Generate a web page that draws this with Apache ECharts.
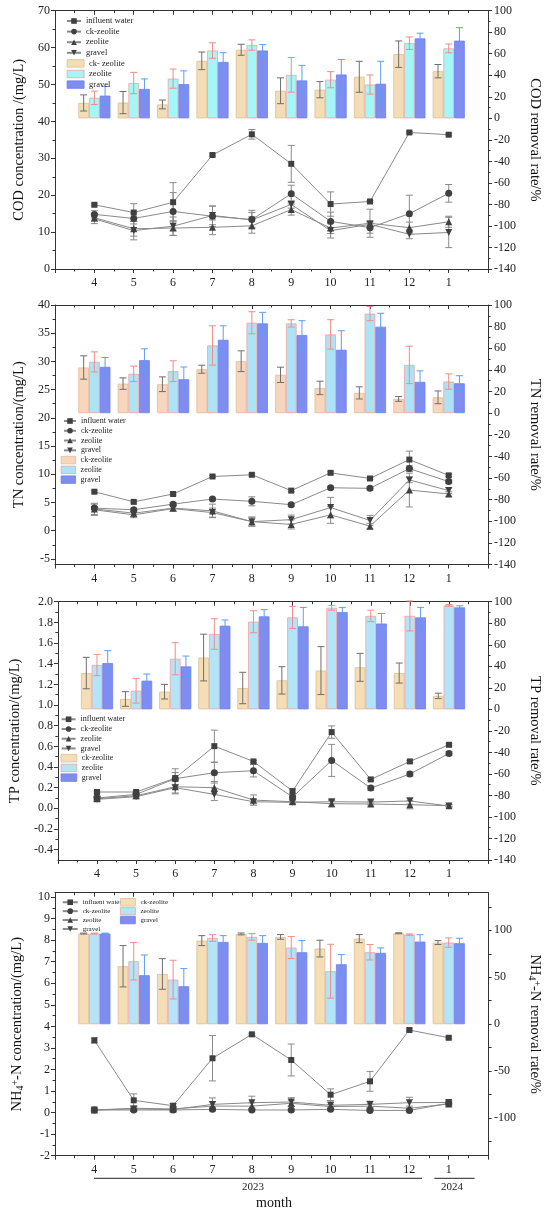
<!DOCTYPE html>
<html>
<head>
<meta charset="utf-8">
<script src="https://cdn.jsdelivr.net/npm/echarts@6/dist/echarts.min.js"></script>
<style>
html, body { margin: 0; padding: 0; background: #fff; }
#demo { width: 550px; height: 1216px; }
</style>
</head>
<body>
<div id="demo"></div>
<script>
// x axis: months Apr 2023 .. Jan 2024
var months = ['4', '5', '6', '7', '8', '9', '10', '11', '12', '1'];

// every point is [mean, error]
// COD concentration (mg/L)
var codInfluent = [[17.4,0.3],[15.3,2.4],[18.1,5.3],[30.9,0.3],[36.5,1.3],[28.5,5.0],[17.6,3.3],[18.3,0.3],[37.0,0.3],[36.4,0.3]];
var codCk       = [[14.8,1.0],[13.7,1.5],[15.6,5.1],[14.3,2.8],[13.4,2.5],[20.4,2.3],[12.9,2.5],[11.2,1.5],[15.0,5.0],[20.5,2.4]];
var codZeolite  = [[13.9,1.0],[10.9,2.0],[11.1,2.0],[11.3,2.0],[11.7,2.0],[16.1,1.5],[11.1,1.5],[12.4,3.8],[11.2,1.5],[12.8,1.5]];
var codGravel   = [[13.6,1.3],[10.4,2.5],[11.6,2.5],[14.5,2.5],[13.3,2.0],[17.5,1.0],[10.4,2.0],[12.1,1.0],[9.4,1.2],[9.9,4.1]];
// COD removal rate (%)
var codRateCk      = [[14.3,7.5],[14.6,10.3],[12.9,4.1],[53.4,8.2],[63.7,5.1],[25.6,12.0],[26.6,7.5],[38.6,14.4],[59.6,12.3],[43.8,6.2]];
var codRateZeolite = [[19.1,6.2],[32.8,9.9],[36.9,8.9],[63.0,7.2],[68.1,4.8],[40.4,16.1],[35.9,7.5],[31.4,8.9],[69.8,5.8],[65.0,4.1]];
var codRateGravel  = [[21.1,8.5],[27.3,9.3],[31.8,12.3],[52.4,8.6],[63.0,5.5],[35.2,14.0],[40.7,14.0],[32.1,20.9],[74.3,4.8],[72.2,12.0]];

// TN concentration (mg/L)
var tnInfluent = [[6.9,0.2],[5.1,0.2],[6.5,0.2],[9.6,0.2],[9.9,0.2],[7.1,0.2],[10.25,0.2],[9.25,0.2],[12.6,1.5],[9.8,0.2]];
var tnCk       = [[4.0,0.3],[3.7,0.3],[4.7,0.3],[5.6,0.3],[5.2,0.8],[4.6,0.3],[7.6,0.3],[7.5,0.3],[11.0,0.5],[8.7,0.3]];
var tnZeolite  = [[3.85,1.0],[3.1,0.6],[4.0,0.5],[3.5,1.2],[1.6,0.8],[1.1,0.8],[2.8,1.5],[0.8,0.5],[7.2,3.0],[6.5,0.4]];
var tnGravel   = [[3.7,1.0],[2.8,0.5],[3.9,0.5],[3.2,0.8],[1.6,0.8],[1.95,0.8],[4.1,1.8],[1.8,0.9],[9.0,0.5],[7.1,0.5]];
// TN removal rate (%)
var tnRateCk      = [[42.2,10.8],[27.3,5.3],[26.7,6.8],[40.6,3.7],[48.0,9.6],[35.4,7.1],[23.3,6.2],[18.7,5.6],[13.1,2.2],[14.6,5.9]];
var tnRateZeolite = [[47.4,9.3],[36.3,7.1],[38.8,9.6],[62.6,18.2],[83.6,10.2],[83.0,3.4],[72.8,13.6],[92.0,6.5],[44.6,17.3],[29.2,7.1]];
var tnRateGravel  = [[42.8,8.7],[49.0,10.5],[31.3,11.4],[67.8,13.0],[83.0,10.2],[72.2,13.3],[58.6,17.6],[79.9,12.4],[28.9,10.2],[27.6,7.0]];

// TP concentration (mg/L)
var tpInfluent = [[0.158,0.01],[0.158,0.01],[0.293,0.09],[0.602,0.155],[0.454,0.01],[0.167,0.02],[0.738,0.06],[0.28,0.01],[0.454,0.01],[0.615,0.01]];
var tpCk       = [[0.10,0.02],[0.135,0.02],[0.287,0.06],[0.345,0.1],[0.364,0.06],[0.11,0.02],[0.464,0.155],[0.196,0.02],[0.332,0.02],[0.531,0.02]];
var tpZeolite  = [[0.093,0.02],[0.122,0.02],[0.209,0.06],[0.2,0.06],[0.08,0.05],[0.064,0.02],[0.045,0.03],[0.042,0.02],[0.035,0.04],[0.026,0.01]];
var tpGravel   = [[0.087,0.02],[0.113,0.02],[0.2,0.06],[0.135,0.06],[0.064,0.02],[0.058,0.02],[0.064,0.02],[0.061,0.02],[0.071,0.03],[0.023,0.01]];
// TP removal rate (%)
var tpRateCk      = [[33.7,14.6],[9.6,6.8],[16.4,6.8],[48.1,21.7],[19.8,14.6],[26.9,12.7],[36.0,22.3],[39.0,13.0],[33.7,9.3],[12.5,2.5]];
var tpRateZeolite = [[41.2,9.9],[17.3,11.5],[47.0,14.9],[70.0,14.2],[81.4,10.2],[85.4,10.2],[94.4,2.2],[86.8,5.3],[86.8,13.9],[96.6,0.8]];
var tpRateGravel  = [[43.0,11.5],[26.6,6.2],[39.9,9.6],[77.7,5.3],[86.4,6.2],[77.1,17.6],[90.4,4.3],[79.7,9.3],[85.4,9.3],[94.7,1.5]];

// NH4+-N concentration (mg/L)
var nhInfluent = [[3.35,0.12],[0.57,0.3],[0.32,0.1],[2.52,1.05],[3.63,0.05],[2.44,0.74],[0.83,0.27],[1.45,0.46],[3.83,0.05],[3.47,0.05]];
var nhCk       = [[0.12,0.1],[0.12,0.05],[0.12,0.05],[0.15,0.05],[0.12,0.05],[0.12,0.05],[0.15,0.05],[0.1,0.05],[0.1,0.05],[0.43,0.1]];
var nhZeolite  = [[0.12,0.05],[0.2,0.1],[0.17,0.1],[0.3,0.2],[0.3,0.15],[0.43,0.15],[0.28,0.1],[0.3,0.1],[0.2,0.1],[0.4,0.1]];
var nhGravel   = [[0.12,0.05],[0.17,0.1],[0.14,0.1],[0.38,0.3],[0.46,0.3],[0.49,0.2],[0.34,0.2],[0.38,0.15],[0.46,0.25],[0.47,0.1]];
// NH4+-N removal rate (%)
var nhRateCk      = [[96.5,0.5],[61.7,22.0],[53.5,16.3],[89.0,5.3],[96.1,1.0],[92.9,2.5],[80.5,8.9],[91.1,4.3],[96.8,0.5],[86.9,2.1]];
var nhRateZeolite = [[96.5,0.5],[67.0,19.9],[47.5,20.6],[91.8,3.5],[92.9,3.5],[81.6,11.7],[56.4,28.7],[76.6,8.2],[95.4,0.7],[86.9,5.0]];
var nhRateGravel  = [[96.5,0.5],[52.1,21.6],[40.4,18.8],[87.6,6.7],[86.5,7.8],[76.6,12.4],[63.8,10.3],[75.9,5.3],[87.9,7.4],[86.2,5.3]];

var lineNames = ['influent water', 'ck-zeolite', 'zeolite', 'gravel'];

window.onload = function () {
    var serif = '"Times New Roman", "Liberation Serif", serif';
    var ink = '#333';
    var barW = 10.7;

    function range(a, b, step) {
        var r = [];
        for (var k = 0; a + k * step <= b + 1e-9; k++) r.push(+(a + k * step).toFixed(4));
        return r;
    }

    function pts(arr) {
        return arr.map(function (d, i) { return [i + 4, d[0], d[1]]; });
    }

    // vertical error bar with caps, dx shifts it onto its bar
    function errSeries(arr, xi, yi, dx, color, z) {
        return {
            type: 'custom', name: 'err', xAxisIndex: xi, yAxisIndex: yi, z: z, silent: true,
            encode: { x: 0, y: 1 }, data: pts(arr),
            renderItem: function (params, api) {
                var x = api.value(0), v = api.value(1), e = api.value(2);
                var p1 = api.coord([x, v + e]), p2 = api.coord([x, v - e]);
                var cx = p1[0] + dx, w = 3.5;
                var st = { stroke: color, lineWidth: 1 };
                return { type: 'group', children: [
                    { type: 'line', shape: { x1: cx, y1: p1[1], x2: cx, y2: p2[1] }, style: st },
                    { type: 'line', shape: { x1: cx - w, y1: p1[1], x2: cx + w, y2: p1[1] }, style: st },
                    { type: 'line', shape: { x1: cx - w, y1: p2[1], x2: cx + w, y2: p2[1] }, style: st }
                ] };
            }
        };
    }

    var nhRich = {
        sub: { fontSize: 10, fontFamily: serif, verticalAlign: 'bottom', lineHeight: 10, color: '#111' },
        sup: { fontSize: 10, fontFamily: serif, verticalAlign: 'top', lineHeight: 10, color: '#111' }
    };

    var panels = [
        { top: 10.7, bottom: 269, lines: [codInfluent, codCk, codZeolite, codGravel],
          bars: [codRateCk, codRateZeolite, codRateGravel],
          barNames: ['b1:ck- zeolite', 'b1:zeolite', 'b1:gravel'],
          barColors: ['#F3DDB6', '#A4F6F7', '#7F8DF1'],
          left: { min: 0, max: 70, interval: 10, name: 'COD concentration /(mg/L)', gap: 28 },
          right: { min: -140, max: 100, interval: 20, name: 'COD removal rate/%' },
          lg: { x: 66, y: 15.7, row: 10.6, font: 8.5, lw: 14, bx: 66.7, bw: 17, by: 58.1 } },
        { top: 305, bottom: 564.5, lines: [tnInfluent, tnCk, tnZeolite, tnGravel],
          bars: [tnRateCk, tnRateZeolite, tnRateGravel],
          barNames: ['b2:ck-zeolite', 'b2:zeolite', 'b2:gravel'],
          barColors: ['#F8D6BD', '#AEE3F5', '#7F8DF1'],
          left: { min: -6, max: 40, labels: range(-5, 40, 5), minors: range(-2.5, 37.5, 5), name: 'TN concentration/(mg/L)', gap: 28 },
          right: { min: -140, max: 100, interval: 20, name: 'TN removal rate/%' },
          lg: { x: 63, y: 416.1, row: 9.78, font: 8, lw: 12, bx: 60.7, bw: 14.5, by: 455.2 } },
        { top: 601.7, bottom: 860, lines: [tpInfluent, tpCk, tpZeolite, tpGravel],
          bars: [tpRateCk, tpRateZeolite, tpRateGravel],
          barNames: ['b3:ck-zeolite', 'b3:zeolite', 'b3:gravel'],
          barColors: ['#F5DEB5', '#B3E4F7', '#7F8DF1'],
          left: { min: -0.5, max: 2.0, labels: range(-0.4, 2.0, 0.2), minors: range(-0.3, 1.9, 0.2), fmt: 1, name: 'TP concentration/(mg/L)', gap: 33 },
          right: { min: -140, max: 100, interval: 20, name: 'TP removal rate/%' },
          lg: { x: 60.6, y: 714.4, row: 9.73, font: 8, lw: 14, bx: 60.6, bw: 15.8, by: 753.3 } },
        { top: 892.7, bottom: 1155.7, lines: [nhInfluent, nhCk, nhZeolite, nhGravel],
          bars: [nhRateCk, nhRateZeolite, nhRateGravel],
          barNames: ['b4:ck-zeolite', 'b4:zeolite', 'b4:gravel'],
          barColors: ['#F5DEB5', '#B3E4F7', '#7F8DF1'],
          left: { min: -2, max: 10.2, labels: range(-2, 10, 1), minors: range(-1.5, 9.5, 1), name: 'NH{sub|4}{sup|+}-N concentration/(mg/L)', gap: 30, rich: true },
          right: { min: -140, max: 140, labels: range(-100, 100, 50), ticks: range(-125, 125, 25), name: 'NH{sub|4}{sup|+}-N removal rate/%', rich: true },
          lg: { x: 61.7, y: 897.8, row: 8.9, font: 7, lw: 15, bx: 120, bw: 15, by: 897.8 } }
    ];

    var barBorders = ['#DDBE98', '#F2A2A2', '#6F80EE'];
    var barErrColors = ['#6e6e6e', '#F08C8C', '#5F9DF0'];
    var symbols = [['rect', 6, 0], ['circle', 7, 0], ['triangle', 7, 0], ['triangle', 7, 180]];

    var grid = [], xAxis = [], yAxis = [], series = [], legend = [];

    var lineSt = { color: ink, width: 1 };
    var lblSt = { fontFamily: serif, fontSize: 12, color: '#222' };

    panels.forEach(function (p, gi) {
        grid.push({ left: 55, width: 436.7, top: p.top, height: p.bottom - p.top });

        // bottom month axis and top frame axis
        var xi = xAxis.length;
        xAxis.push({
            type: 'value', gridIndex: gi, position: 'bottom', min: 3, max: 14, interval: 1,
            axisLine: { onZero: false, lineStyle: lineSt },
            axisTick: { length: 4, lineStyle: lineSt },
            minorTick: { show: true, splitNumber: 2, length: 2.5, lineStyle: lineSt },
            splitLine: { show: false },
            axisLabel: Object.assign({ margin: 8, formatter: function (v) {
                return (v >= 4 && v <= 13) ? months[v - 4] : '';
            } }, lblSt)
        });
        xAxis.push({
            type: 'value', gridIndex: gi, position: 'top', min: 3, max: 14, interval: 1,
            axisLine: { onZero: false, lineStyle: lineSt },
            axisTick: { inside: true, length: 4, lineStyle: lineSt },
            minorTick: { show: true, splitNumber: 2, length: 2.5, lineStyle: lineSt },
            splitLine: { show: false }, axisLabel: { show: false }
        });

        function makeY(a, side) {
            var ax = {
                type: 'value', gridIndex: gi, position: side, min: a.min, max: a.max,
                name: a.name, nameLocation: 'middle',
                nameRotate: side === 'left' ? 90 : -90,
                nameGap: side === 'left' ? a.gap : 33,
                nameTextStyle: { fontFamily: serif, fontSize: 14.5, color: '#111', rich: a.rich ? nhRich : undefined },
                axisLine: { show: true, onZero: false, lineStyle: lineSt },
                axisTick: { show: true, length: 4, lineStyle: lineSt },
                splitLine: { show: false },
                axisLabel: Object.assign({ margin: side === 'left' ? 5 : 6 }, lblSt)
            };
            if (a.interval) {
                ax.interval = a.interval;
                ax.minorTick = { show: true, splitNumber: 2, length: 2.5, lineStyle: lineSt };
            } else {
                ax.axisLabel.customValues = a.labels;
                ax.axisTick.customValues = a.ticks || a.labels;
                if (a.ticks) ax.axisTick.length = 3.5;
            }
            if (a.fmt) ax.axisLabel.formatter = function (v) { return v.toFixed(a.fmt); };
            yAxis.push(ax);
            return yAxis.length - 1;
        }
        var yl = makeY(p.left, 'left');
        var yr = makeY(p.right, 'right');
        if (p.left.minors) {
            // overlay axis only for the short minor ticks
            yAxis.push({
                type: 'value', gridIndex: gi, position: 'left', min: p.left.min, max: p.left.max,
                axisLine: { show: false, onZero: false }, splitLine: { show: false },
                axisLabel: { show: false },
                axisTick: { show: true, length: 2.5, customValues: p.left.minors, lineStyle: lineSt }
            });
        }

        // removal rate bars on the right axis
        p.bars.forEach(function (arr, k) {
            series.push({
                type: 'bar', name: p.barNames[k], xAxisIndex: xi, yAxisIndex: yr, z: 2,
                barWidth: barW, barGap: '0%',
                itemStyle: { color: p.barColors[k], borderColor: barBorders[k], borderWidth: 0.8 },
                data: pts(arr).map(function (d) { return [d[0], d[1]]; })
            });
            series.push(errSeries(arr, xi, yr, (k - 1) * barW, barErrColors[k], 3));
        });

        // concentration lines on the left axis
        p.lines.forEach(function (arr, k) {
            series.push(errSeries(arr, xi, yl, 0, '#8a8a8a', 4));
            series.push({
                type: 'line', name: lineNames[k], xAxisIndex: xi, yAxisIndex: yl, z: 5,
                symbol: symbols[k][0], symbolSize: symbols[k][1], symbolRotate: symbols[k][2],
                lineStyle: { color: '#8a8a8a', width: 1 },
                itemStyle: { color: '#404040' },
                data: pts(arr).map(function (d) { return [d[0], d[1]]; })
            });
        });

        var lgText = { fontFamily: serif, fontSize: p.lg.font, lineHeight: p.lg.row, color: '#222' };
        legend.push({
            orient: 'vertical', left: p.lg.x, top: p.lg.y, padding: 0, itemGap: 0,
            itemWidth: p.lg.lw, itemHeight: 7, data: lineNames, textStyle: lgText,
            selectedMode: false
        });
        legend.push({
            orient: 'vertical', left: p.lg.bx, top: p.lg.by, padding: 0, itemGap: 0,
            itemWidth: p.lg.bw, itemHeight: 7.5, data: p.barNames, textStyle: lgText,
            icon: 'rect', selectedMode: false,
            itemStyle: { borderWidth: 0.8 },
            formatter: function (n) { return n.replace(/^b\d:/, ''); }
        });
    });

    var option = {
        animation: false,
        backgroundColor: '#fff',
        grid: grid, xAxis: xAxis, yAxis: yAxis, series: series, legend: legend,
        graphic: [
            { type: 'line', shape: { x1: 94, y1: 1178.3, x2: 422, y2: 1178.3 }, style: { stroke: '#222', lineWidth: 1 } },
            { type: 'line', shape: { x1: 434.3, y1: 1178.3, x2: 474.6, y2: 1178.3 }, style: { stroke: '#222', lineWidth: 1 } },
            { type: 'text', x: 253, y: 1187.5, style: { text: '2023', align: 'center', verticalAlign: 'middle', font: '11px ' + serif, fill: '#222' } },
            { type: 'text', x: 452, y: 1187.5, style: { text: '2024', align: 'center', verticalAlign: 'middle', font: '11px ' + serif, fill: '#222' } },
            { type: 'text', x: 274, y: 1203.5, style: { text: 'month', align: 'center', verticalAlign: 'middle', font: '14px ' + serif, fill: '#111' } }
        ]
    };

    var myCharts = echarts.init(document.getElementById('demo'));
    myCharts.setOption(option);
};
</script>
</body>
</html>
